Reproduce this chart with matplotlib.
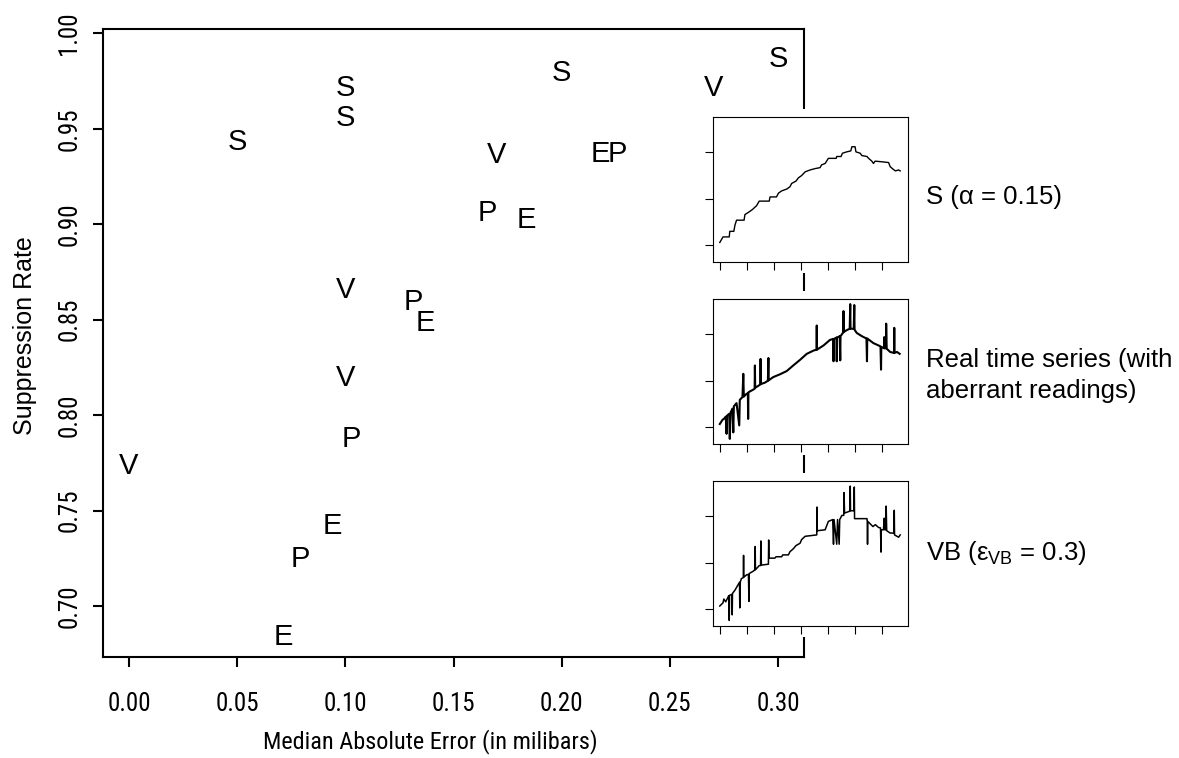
import matplotlib
matplotlib.use('Agg')
import matplotlib.pyplot as plt
from matplotlib import font_manager
from matplotlib.patches import Rectangle

plt.rcParams['font.family'] = ['Liberation Sans', 'DejaVu Sans']

# axis numbers and the x title are set in a condensed face when one is installed
installed = {f.name for f in font_manager.fontManager.ttflist}
narrow_face = None
for name in ['Liberation Sans Narrow', 'Roboto Condensed', 'Open Sans Condensed']:
    if name in installed:
        narrow_face = name
        break
if narrow_face:
    narrow = [narrow_face, 'Liberation Sans', 'DejaVu Sans']
    tick_size, xlab_size = 18, 17.5
else:
    narrow = ['Liberation Sans', 'DejaVu Sans']
    tick_size, xlab_size = 17, 16

# (median absolute error, suppression rate) for each method, five settings each
s_mae = [0.05, 0.10, 0.10, 0.20, 0.30]
s_rate = [0.9448, 0.9731, 0.9574, 0.9810, 0.9883]
v_mae = [0.0, 0.10, 0.10, 0.17, 0.27]
v_rate = [0.7747, 0.8211, 0.8669, 0.9377, 0.9731]
p_mae = [0.079, 0.1029, 0.1312, 0.1655, 0.2258]
p_rate = [0.7260, 0.7893, 0.8609, 0.9075, 0.9386]
e_mae = [0.0714, 0.094, 0.137, 0.1835, 0.2179]
e_rate = [0.6852, 0.7436, 0.8500, 0.9039, 0.9386]

xticks = [0.00, 0.05, 0.10, 0.15, 0.20, 0.25, 0.30]
yticks = [0.70, 0.75, 0.80, 0.85, 0.90, 0.95, 1.00]

# pressure series (sample index, milibars) shown in the small panels
smooth_t = [0, 12, 35, 37, 52, 56, 62, 90, 93, 109, 121, 136, 146, 183, 186, 210,
            217, 229, 248, 260, 266, 282, 291, 303, 316, 334, 353, 371, 377, 390,
            402, 431, 433, 449, 454, 470, 485, 489, 501, 504, 520, 526, 545, 551,
            563, 569, 575, 594, 625, 631, 641, 650, 662, 668]
smooth_p = [1012.06, 1012.18, 1012.18, 1012.30, 1012.30, 1012.43, 1012.54, 1012.54,
            1012.66, 1012.72, 1012.77, 1012.85, 1012.95, 1012.95, 1013.04, 1013.04,
            1013.12, 1013.17, 1013.21, 1013.26, 1013.33, 1013.38, 1013.45, 1013.50,
            1013.58, 1013.62, 1013.65, 1013.67, 1013.73, 1013.76, 1013.87, 1013.87,
            1013.91, 1013.91, 1013.98, 1014.01, 1014.03, 1014.12, 1014.12, 1014.01,
            1013.98, 1013.93, 1013.91, 1013.87, 1013.81, 1013.76, 1013.81, 1013.80,
            1013.78, 1013.69, 1013.64, 1013.60, 1013.62, 1013.60]

raw_t = [0, 10, 19, 22, 25, 27, 35, 37, 40, 47, 50, 52, 62, 72, 74, 84, 87, 89,
         99, 104, 105, 106, 111, 124, 129, 130, 131, 142, 150, 151, 152, 167, 178,
         180, 181, 198, 223, 248, 272, 297, 322, 347, 358, 359, 360, 384, 408, 420,
         421, 422, 432, 433, 434, 444, 446, 447, 457, 458, 459, 470, 481, 483, 484,
         496, 498, 499, 507, 526, 543, 545, 546, 569, 588, 595, 597, 598, 608, 609,
         610, 615, 616, 618, 631, 645, 646, 647, 656, 666]
raw_p = [1012.07, 1012.16, 1012.20, 1012.23, 1011.86, 1012.25, 1012.29, 1011.75,
         1012.32, 1012.40, 1011.89, 1012.45, 1012.52, 1012.04, 1012.59, 1012.65,
         1013.15, 1012.66, 1012.72, 1012.73, 1012.18, 1012.75, 1012.77, 1012.81,
         1012.83, 1013.33, 1012.85, 1012.89, 1012.92, 1013.47, 1012.93, 1012.96,
         1013.00, 1013.49, 1013.01, 1013.08, 1013.14, 1013.21, 1013.33, 1013.45,
         1013.58, 1013.65, 1013.67, 1014.19, 1013.67, 1013.76, 1013.88, 1013.90,
         1013.42, 1013.90, 1013.93, 1013.42, 1013.93, 1013.96, 1013.44, 1013.96,
         1014.04, 1014.50, 1014.05, 1014.09, 1014.12, 1014.65, 1014.12, 1014.12,
         1014.63, 1014.10, 1014.03, 1013.96, 1013.91, 1013.42, 1013.91, 1013.81,
         1013.76, 1013.74, 1013.24, 1013.73, 1013.70, 1013.94, 1013.70, 1013.70,
         1014.23, 1013.69, 1013.62, 1013.60, 1014.14, 1013.60, 1013.62, 1013.58]

vb_t = [0, 12, 15, 22, 33, 35, 36, 45, 46, 47, 56, 73, 74, 76, 80, 87, 88, 89,
        99, 106, 108, 109, 124, 130, 131, 132, 146, 151, 152, 154, 180, 181, 182,
        204, 208, 229, 233, 254, 260, 272, 282, 297, 303, 316, 359, 360, 361, 390,
        402, 418, 421, 423, 433, 436, 442, 444, 452, 459, 460, 462, 481, 483, 484,
        496, 498, 499, 545, 546, 547, 548, 567, 576, 588, 595, 597, 598, 606, 609,
        611, 615, 616, 618, 631, 645, 646, 647, 662, 668]
vb_p = [1012.07, 1012.14, 1012.22, 1012.16, 1012.29, 1011.76, 1012.30, 1012.32,
        1011.88, 1012.34, 1012.41, 1012.58, 1012.03, 1012.59, 1012.66, 1012.68,
        1013.16, 1012.69, 1012.74, 1012.75, 1012.17, 1012.77, 1012.82, 1012.85,
        1013.35, 1012.85, 1012.94, 1012.94, 1013.47, 1012.95, 1012.97, 1013.49,
        1013.10, 1013.10, 1013.13, 1013.13, 1013.17, 1013.17, 1013.24, 1013.30,
        1013.37, 1013.42, 1013.50, 1013.57, 1013.60, 1014.20, 1013.69, 1013.71,
        1013.89, 1013.93, 1013.40, 1013.93, 1013.40, 1013.93, 1013.40, 1013.93,
        1014.02, 1014.02, 1014.51, 1014.07, 1014.11, 1014.65, 1014.12, 1014.12,
        1014.63, 1013.95, 1013.95, 1013.89, 1013.40, 1013.89, 1013.78, 1013.82,
        1013.76, 1013.75, 1013.23, 1013.71, 1013.71, 1013.96, 1013.71, 1013.71,
        1014.22, 1013.69, 1013.64, 1013.64, 1014.13, 1013.60, 1013.55, 1013.60]

panel_names = ['S (\u03b1 = 0.15)', 'Real time series (with\naberrant readings)',
               'VB (\u03b5$_\\mathregular{VB}$ = 0.3)']

W, H = 1179, 758
fig = plt.figure(figsize=(W / 100, H / 100), dpi=100)

ax = fig.add_axes([103 / W, 1 - 657 / H, 701 / W, 628 / H])
for sp in ax.spines.values():
    sp.set_linewidth(1.5)

for lab, xs, ys in [('S', s_mae, s_rate), ('V', v_mae, v_rate),
                    ('P', p_mae, p_rate), ('E', e_mae, e_rate)]:
    for x, y in zip(xs, ys):
        ax.text(x, y, lab, ha='center', va='center_baseline', fontsize=21)

ax.set_xlim(-0.012, 0.312)
ax.set_ylim(0.6733, 1.0023)
ax.set_xticks(xticks)
ax.set_xticklabels(['%.2f' % v for v in xticks], fontfamily=narrow)
ax.set_yticks(yticks)
ax.set_yticklabels(['%.2f' % v for v in yticks], fontfamily=narrow,
                   rotation=90, va='center')
ax.tick_params(direction='out', length=7.5, width=1.5, labelsize=tick_size)
ax.tick_params(axis='x', pad=18)
ax.tick_params(axis='y', pad=8)

fig.text(25 / W, 1 - 336 / H, 'Suppression Rate', rotation=90,
         ha='center', va='center', fontsize=18)
fig.text(430 / W, 1 - 748 / H, 'Median Absolute Error (in milibars)',
         ha='center', va='baseline', fontsize=xlab_size, fontfamily=narrow)

# small panels on the right, each on a white patch that hides the frame behind it
panel_top = [117, 299, 481]
panel_h = 145
series = [(smooth_t, smooth_p, 1.0), (raw_t, raw_p, 1.5), (vb_t, vb_p, 1.1)]
for top, (t, p, lw) in zip(panel_top, series):
    fig.add_artist(Rectangle((698 / W, 1 - (top + panel_h + 11) / H),
                             214 / W, (panel_h + 19) / H,
                             transform=fig.transFigure, facecolor='white',
                             edgecolor='none', zorder=1))
    iax = fig.add_axes([712.5 / W, 1 - (top + panel_h) / H, 195 / W, panel_h / H],
                       zorder=2)
    iax.plot(t, p, color='black', lw=lw)
    iax.set_xlim(-27, 695)
    iax.set_ylim(1011.64, 1014.76)
    iax.set_xticks([0, 100, 200, 300, 400, 500, 600])
    iax.set_yticks([1012, 1013, 1014])
    iax.tick_params(direction='out', length=6, width=0.8,
                    labelbottom=False, labelleft=False)
    for sp in iax.spines.values():
        sp.set_linewidth(0.8)

fig.text(926 / W, 1 - 204 / H, panel_names[0], ha='left', va='baseline', fontsize=18.5)
lines = panel_names[1].split('\n')
fig.text(926 / W, 1 - 367 / H, lines[0], ha='left', va='baseline', fontsize=18.5)
fig.text(926 / W, 1 - 398 / H, lines[1], ha='left', va='baseline', fontsize=18.5)
fig.text(926 / W, 1 - 560 / H, panel_names[2], ha='left', va='baseline', fontsize=18.5)

fig.savefig('out.png', dpi=100)
